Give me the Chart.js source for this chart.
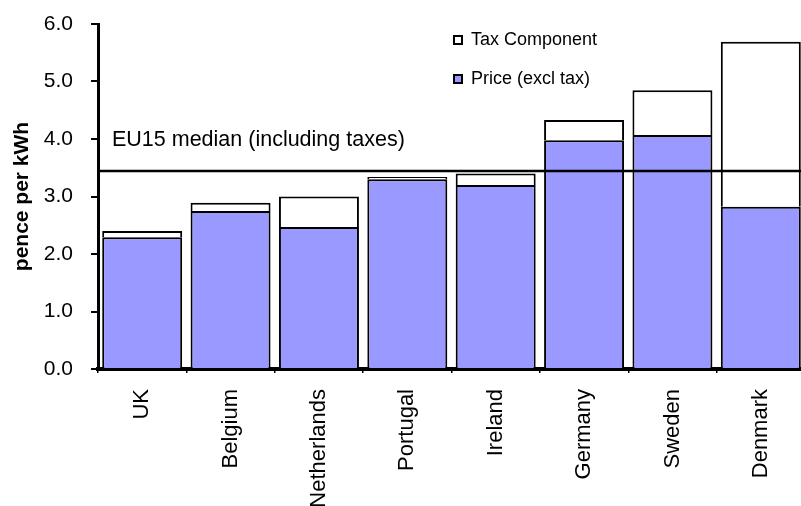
<!DOCTYPE html>
<html>
<head>
<meta charset="utf-8">
<script src="https://cdn.jsdelivr.net/npm/chart.js@4"></script>
<style>
  html, body { margin: 0; padding: 0; background: #fff; overflow: hidden; }
  #wrap { position: relative; width: 808px; height: 506px; }
</style>
</head>
<body>
<div id="wrap"><canvas id="c"></canvas></div>
<script>
const countries = ['UK', 'Belgium', 'Netherlands', 'Portugal', 'Ireland', 'Germany', 'Sweden', 'Denmark'];
const priceExclTax = [2.29, 2.75, 2.47, 3.30, 3.20, 3.98, 4.07, 2.82];
const taxComponent = [0.11, 0.14, 0.53, 0.04, 0.20, 0.35, 0.78, 2.87];
const medianValue = 3.44;
const medianLabel = 'EU15 median (including taxes)';
const yTicks = [0, 1, 2, 3, 4, 5, 6];
const yTitle = 'pence per kWh';
const seriesNames = ['Price (excl tax)', 'Tax Component'];

const FONT = '"Liberation Sans", Arial, sans-serif';

const medianPlugin = {
  id: 'medianLine',
  afterDatasetsDraw(chart) {
    const { ctx, chartArea, scales } = chart;
    const py = Math.round(scales.y.getPixelForValue(medianValue));
    ctx.save();
    ctx.strokeStyle = '#000';
    ctx.lineWidth = 2.5;
    ctx.beginPath();
    ctx.moveTo(chartArea.left, py);
    ctx.lineTo(chartArea.right, py);
    ctx.stroke();
    ctx.fillStyle = '#000';
    ctx.font = '21.5px ' + FONT;
    ctx.textBaseline = 'middle';
    ctx.textAlign = 'left';
    ctx.fillText(medianLabel, chartArea.left + 14, py - 31);
    ctx.restore();
  }
};

const legendMover = {
  id: 'legendMover',
  afterLayout(chart) {
    const lg = chart.legend;
    if (!lg) return;
    const pad = lg.options.labels.padding;
    lg.left = 454 - pad;
    lg.top = 31 - pad;
    lg.right = 780;
    lg.bottom = 140;
    lg.width = lg.right - lg.left;
    lg.height = lg.bottom - lg.top;
  }
};

new Chart(document.getElementById('c'), {
  type: 'bar',
  data: {
    labels: countries,
    datasets: [
      {
        label: seriesNames[0],
        data: priceExclTax,
        backgroundColor: '#9999FF',
        borderColor: '#000',
        borderWidth: 2,
        borderSkipped: 'start',
        categoryPercentage: 1,
        barPercentage: 0.905
      },
      {
        label: seriesNames[1],
        data: taxComponent,
        backgroundColor: '#FFFFFF',
        borderColor: '#000',
        borderWidth: 2,
        borderSkipped: 'start',
        categoryPercentage: 1,
        barPercentage: 0.905
      }
    ]
  },
  options: {
    responsive: true,
    maintainAspectRatio: false,
    animation: false,
    devicePixelRatio: 1,
    layout: { padding: { left: 0, top: 24, right: 3, bottom: 0 } },
    plugins: {
      legend: {
        position: 'chartArea',
        reverse: true,
        align: 'start',
        labels: {
          boxWidth: 8,
          boxHeight: 8,
          padding: 21,
          color: '#000',
          font: { family: FONT, size: 18, lineHeight: 1.2 }
        }
      },
      tooltip: { enabled: false }
    },
    scales: {
      x: {
        stacked: true,
        grid: {
          display: true,
          drawOnChartArea: false,
          drawTicks: true,
          tickLength: 4,
          color: '#000',
          lineWidth: 1.5,
          offset: true
        },
        border: { display: true, color: '#000', width: 4 },
        ticks: {
          color: '#000',
          font: { family: FONT, size: 22 },
          minRotation: 90,
          maxRotation: 90,
          autoSkip: false,
          padding: 16
        },
        afterFit(scale) { scale.height = 137; }
      },
      y: {
        stacked: true,
        min: 0,
        max: 6,
        afterBuildTicks(scale) { scale.ticks = yTicks.map(v => ({ value: v })); },
        grid: {
          display: true,
          drawOnChartArea: false,
          drawTicks: true,
          tickLength: 7,
          color: '#000',
          lineWidth: 2
        },
        border: { display: true, color: '#000', width: 3 },
        ticks: {
          color: '#000',
          font: { family: FONT, size: 21 },
          padding: 18,
          callback: v => Number(v).toFixed(1)
        },
        title: {
          display: true,
          text: yTitle,
          color: '#000',
          font: { family: FONT, size: 21, weight: 'bold' },
          padding: { top: 10, bottom: 0 }
        },
        afterFit(scale) {
          scale.width = 98;
          scale.paddingTop = 0;
          scale.paddingBottom = 0;
        }
      }
    }
  },
  plugins: [medianPlugin, legendMover]
});
</script>
</body>
</html>
